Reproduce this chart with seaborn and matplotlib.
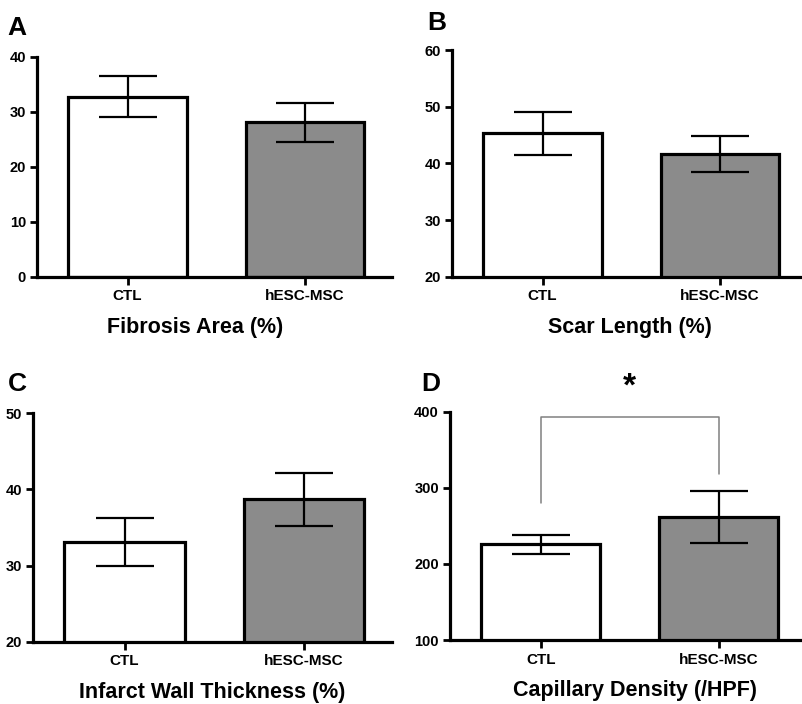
import matplotlib
matplotlib.use('Agg')
import pandas as pd
import seaborn as sns
from matplotlib import pyplot as plt

groups = ['CTL', 'hESC-MSC']

fibrosis_mean = [32.8, 28.1]
fibrosis_err = [3.8, 3.5]

scar_mean = [45.3, 41.6]
scar_err = [3.8, 3.2]

wall_mean = [33.1, 38.7]
wall_err = [3.2, 3.5]

capillary_mean = [226, 262]
capillary_err = [12.5, 34]

panel_letters = ['A', 'B', 'C', 'D']
panel_titles = ['Fibrosis Area (%)', 'Scar Length (%)',
                'Infarct Wall Thickness (%)', 'Capillary Density (/HPF)']
panel_ticks = [[0, 10, 20, 30, 40], [20, 30, 40, 50, 60],
               [20, 30, 40, 50], [100, 200, 300, 400]]

# bracket for the significance mark in D
bracket_y = [280, 393.5, 393.5, 318]
star_y = 432


def draw_panel(ax, means, errs, ticks, title):
    df = pd.DataFrame({'group': groups, 'value': means})
    sns.barplot(data=df, x='group', y='value', hue='group',
                palette=['white', '#8b8b8b'], edgecolor='black',
                linewidth=2.3, width=0.67, legend=False, ax=ax)
    ax.errorbar([0, 1], means, yerr=errs, fmt='none', ecolor='black',
                elinewidth=1.6, capsize=21, capthick=1.6, zorder=3)
    ax.set_xlim(-0.51, 1.49)
    ax.set_ylim(ticks[0], ticks[-1])
    ax.set_yticks(ticks)
    ax.set_ylabel('')
    ax.set_xlabel(title, fontsize=15.5, fontweight='bold', labelpad=10)
    sns.despine(ax=ax)
    for side in ['left', 'bottom']:
        ax.spines[side].set_linewidth(2.3)
        ax.spines[side].set_color('black')
    ax.tick_params(axis='both', direction='out', length=5, width=2,
                   labelsize=10.5, pad=3, color='black', labelcolor='black')
    ax.tick_params(axis='x', length=6, labelsize=11)
    for lab in ax.get_xticklabels() + ax.get_yticklabels():
        lab.set_fontweight('bold')


def main():
    sns.set_style('ticks')
    plt.rcParams['font.family'] = ['Liberation Sans', 'DejaVu Sans']
    plt.rcParams['text.color'] = 'black'
    plt.rcParams['axes.labelcolor'] = 'black'

    fig = plt.figure(figsize=(8.02, 7.04), dpi=100)
    W, H = 802, 704
    # axes boxes in pixels: left, top, right, bottom
    boxes = [(37, 57, 392, 276.7), (452, 50, 807, 276.7),
             (33, 413.3, 392, 641.7), (450, 411.7, 806, 640)]
    letter_pos = [(7, 16), (427, 11), (8, 372), (421, 372)]
    label_x = [0.445, 0.5, 0.5, 0.52]
    data = [(fibrosis_mean, fibrosis_err), (scar_mean, scar_err),
            (wall_mean, wall_err), (capillary_mean, capillary_err)]

    axes = []
    for i, (l, t, r, b) in enumerate(boxes):
        ax = fig.add_axes([l / W, 1 - b / H, (r - l) / W, (b - t) / H])
        draw_panel(ax, data[i][0], data[i][1], panel_ticks[i], panel_titles[i])
        ax.xaxis.label.set_x(label_x[i])
        fig.text(letter_pos[i][0] / W, 1 - letter_pos[i][1] / H, panel_letters[i],
                 fontsize=19, fontweight='bold', va='top', ha='left')
        axes.append(ax)

    ax_d = axes[3]
    ax_d.plot([0, 0, 1, 1], bracket_y, color='#808080', lw=1.1, clip_on=False)
    ax_d.text(0.5, star_y, '*', fontsize=24, fontweight='bold',
              ha='center', va='center', clip_on=False)

    fig.savefig('out.png', dpi=100)


if __name__ == '__main__':
    main()
